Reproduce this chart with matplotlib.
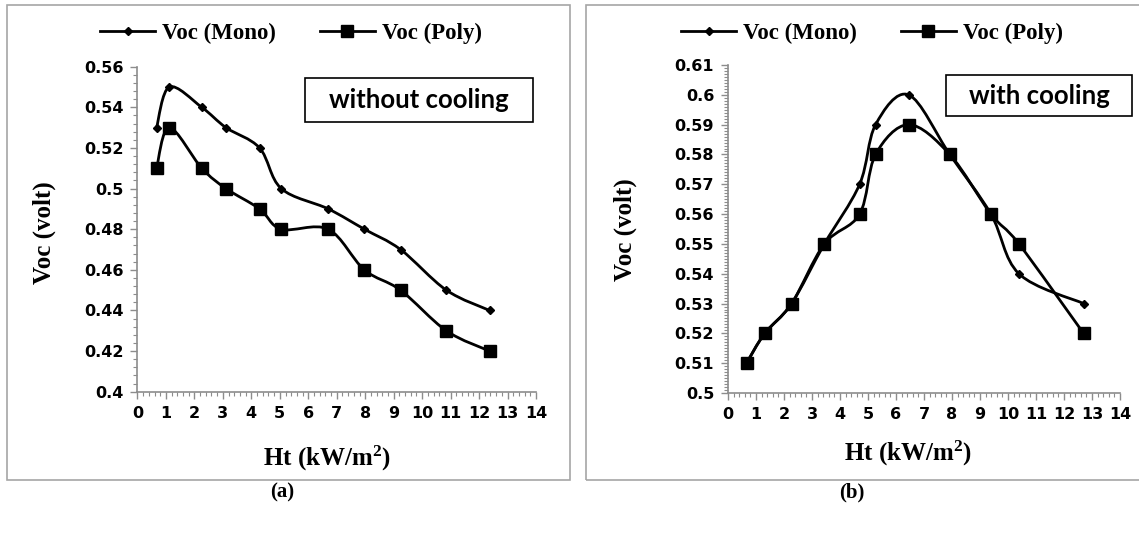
import numpy as np
import matplotlib
matplotlib.use("Agg")
import matplotlib.pyplot as plt
from matplotlib.path import Path
from matplotlib.patches import PathPatch, Rectangle
from matplotlib.lines import Line2D
from matplotlib.ticker import MultipleLocator, FormatStrFormatter

# (a) without cooling
ht_a = [0.67, 1.12, 2.26, 3.11, 4.29, 5.05, 6.7, 7.97, 9.24, 10.85, 12.37]
voc_mono_a = [0.53, 0.55, 0.54, 0.53, 0.52, 0.50, 0.49, 0.48, 0.47, 0.45, 0.44]
voc_poly_a = [0.51, 0.53, 0.51, 0.50, 0.49, 0.48, 0.48, 0.46, 0.45, 0.43, 0.42]

# (b) with cooling
ht_b = [0.66, 1.31, 2.27, 3.44, 4.7, 5.27, 6.45, 7.92, 9.39, 10.39, 12.7]
voc_mono_b = [0.51, 0.52, 0.53, 0.55, 0.57, 0.59, 0.60, 0.58, 0.56, 0.54, 0.53]
voc_poly_b = [0.51, 0.52, 0.53, 0.55, 0.56, 0.58, 0.59, 0.58, 0.56, 0.55, 0.52]

series_names = ["Voc (Mono)", "Voc (Poly)"]
notes = ["without cooling", "with cooling"]
tags = ["(a)", "(b)"]

plt.rcParams["mathtext.fontset"] = "custom"
plt.rcParams["mathtext.rm"] = "Liberation Serif:bold"
plt.rcParams["mathtext.it"] = "Liberation Serif:bold"
plt.rcParams["mathtext.bf"] = "Liberation Serif:bold"

SERIF = "Liberation Serif"
GRAY = "#8c8c8c"


def smooth_path(x, y):
    # excel style smoothed line: bezier pieces through the data points
    pts = np.column_stack([x, y]).astype(float)
    n = len(pts)
    verts = [pts[0]]
    codes = [Path.MOVETO]
    for i in range(n - 1):
        p0 = pts[max(i - 1, 0)]
        p1 = pts[i]
        p2 = pts[i + 1]
        p3 = pts[min(i + 2, n - 1)]
        verts += [p1 + (p2 - p0) / 6, p2 - (p3 - p1) / 6, p2]
        codes += [Path.CURVE4] * 3
    return Path(verts, codes)


fig = plt.figure(figsize=(11.39, 5.36), dpi=100)

ax_a = fig.add_axes([0.1207, 0.2692, 0.3499, 0.6064])
ax_b = fig.add_axes([0.6392, 0.2668, 0.3441, 0.6119])


def draw_panel(ax, x, mono, poly, ymin, ymax, ymajor, yminor):
    ax.add_patch(PathPatch(smooth_path(x, mono), fill=False, color="black", lw=2, zorder=3))
    ax.add_patch(PathPatch(smooth_path(x, poly), fill=False, color="black", lw=2, zorder=3))
    ax.plot(x, poly, linestyle="none", marker="s", ms=8.5, color="black", zorder=4)
    ax.plot(x, mono, linestyle="none", marker="D", ms=4.5, color="black", zorder=5)
    ax.set_xlim(0, 14)
    ax.set_ylim(ymin, ymax)
    ax.xaxis.set_major_locator(MultipleLocator(1))
    ax.xaxis.set_minor_locator(MultipleLocator(0.2))
    ax.yaxis.set_major_locator(MultipleLocator(ymajor))
    ax.yaxis.set_minor_locator(MultipleLocator(yminor))
    ax.yaxis.set_major_formatter(FormatStrFormatter("%g"))
    for s in ["top", "right"]:
        ax.spines[s].set_visible(False)
    for s in ["left", "bottom"]:
        ax.spines[s].set_color(GRAY)
        ax.spines[s].set_linewidth(1.2)
    ax.tick_params(which="major", direction="out", length=5, width=1, color=GRAY,
                   labelsize=11.5, pad=5)
    ax.tick_params(which="minor", direction="out", length=3, width=0.8, color=GRAY)
    for lab in ax.get_xticklabels() + ax.get_yticklabels():
        lab.set_fontweight("bold")


draw_panel(ax_a, ht_a, voc_mono_a, voc_poly_a, 0.4, 0.56, 0.02, 0.004)
draw_panel(ax_b, ht_b, voc_mono_b, voc_poly_b, 0.5, 0.61, 0.01, 0.001)

# chart area borders
fig.patches.append(Rectangle((0.0061, 0.1045), 0.4943, 0.886, transform=fig.transFigure,
                             fill=False, edgecolor="#a6a6a6", lw=1.2))
fig.patches.append(Rectangle((0.5145, 0.1045), 0.5, 0.886, transform=fig.transFigure,
                             fill=False, edgecolor="#a6a6a6", lw=1.2))

# legends
handles = [Line2D([], [], color="black", lw=2, marker="D", ms=4.5),
           Line2D([], [], color="black", lw=2, marker="s", ms=8.5)]
for cx in [0.2555, 0.7656]:
    fig.legend(handles, series_names, loc="center", bbox_to_anchor=(cx, 0.938),
               ncol=2, frameon=False, handlelength=2.4, handletextpad=0.3,
               columnspacing=1.9, prop={"family": SERIF, "weight": "bold", "size": 16.5})

# axis titles
fig.text(0.0386, 0.5653, "Voc (volt)", rotation=90, ha="center", va="center",
         family=SERIF, weight="bold", size=18)
fig.text(0.5487, 0.571, "Voc (volt)", rotation=90, ha="center", va="center",
         family=SERIF, weight="bold", size=18)
fig.text(0.2871, 0.1455, r"Ht (kW/m$^{2}$)", ha="center", va="center",
         family=SERIF, weight="bold", size=18)
fig.text(0.7972, 0.1549, r"Ht (kW/m$^{2}$)", ha="center", va="center",
         family=SERIF, weight="bold", size=18)

# note boxes
fig.patches.append(Rectangle((0.2678, 0.7724), 0.2002, 0.0821, transform=fig.transFigure,
                             fill=False, edgecolor="black", lw=1.2))
fig.text(0.3679, 0.8134, notes[0], ha="center", va="center", family="Lato",
         weight="bold", size=18.5)
fig.patches.append(Rectangle((0.8306, 0.7836), 0.1633, 0.0765, transform=fig.transFigure,
                             fill=False, edgecolor="black", lw=1.2))
fig.text(0.9122, 0.8209, notes[1], ha="center", va="center", family="Lato",
         weight="bold", size=18.5)

# panel tags
fig.text(0.2476, 0.082, tags[0], ha="center", va="center", family=SERIF, weight="bold", size=15)
fig.text(0.748, 0.082, tags[1], ha="center", va="center", family=SERIF, weight="bold", size=15)

fig.savefig("out.png", dpi=100, facecolor="white")
